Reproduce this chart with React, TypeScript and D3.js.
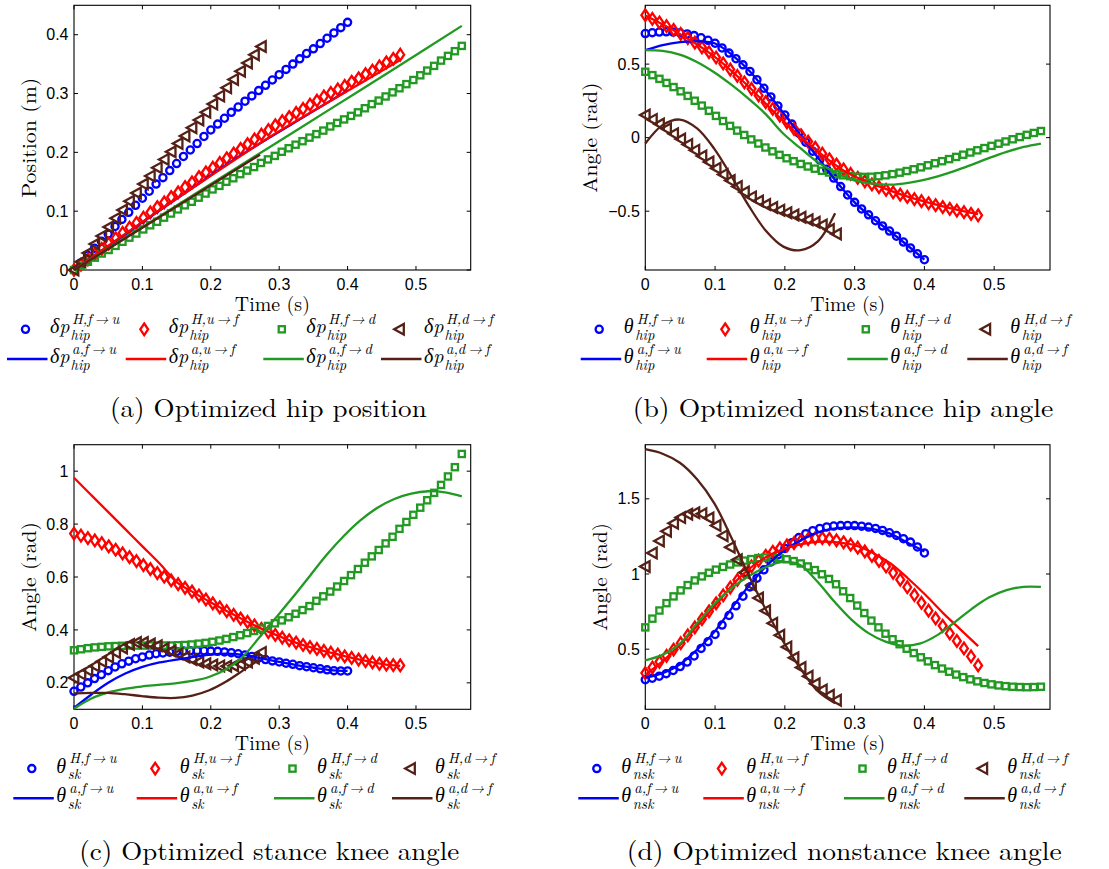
import React from "react";
import * as d3 from "d3";

// ---------- shared categories ----------
const timeTicks = [0, 0.1, 0.2, 0.3, 0.4, 0.5];
const transitions = ["f\u2192u", "u\u2192f", "f\u2192d", "d\u2192f"];
const gaitColors = ["#0000ff", "#ff0000", "#229922", "#552015"];
const markerEndTimes = [0.4, 0.477, 0.567, 0.274];
const lineEndTimes = [0.4, 0.477, 0.567, 0.272];

// ---------- (a) hip position ----------
const hipPosMarkFU = [0.000,0.012,0.025,0.037,0.049,0.061,0.074,0.086,0.098,0.110,
  0.122,0.134,0.146,0.157,0.169,0.181,0.193,0.204,0.215,0.227,
  0.238,0.248,0.258,0.268,0.277,0.287,0.296,0.305,0.314,0.323,
  0.332,0.341,0.350,0.359,0.368,0.376,0.385,0.394,0.403,0.412,0.421];
const hipPosMarkUF = [0,0.009,0.018,0.027,0.036,0.045,0.054,0.063,0.072,0.080,
  0.089,0.098,0.107,0.115,0.124,0.132,0.141,0.149,0.158,0.166,
  0.174,0.182,0.190,0.198,0.206,0.214,0.222,0.230,0.238,0.246,
  0.253,0.260,0.267,0.274,0.281,0.288,0.295,0.301,0.307,0.313,
  0.320,0.326,0.333,0.339,0.346,0.353,0.359,0.366];
const hipPosMarkFD = [0,0.007,0.014,0.021,0.028,0.034,0.041,0.048,0.055,0.062,
  0.069,0.076,0.082,0.089,0.096,0.103,0.110,0.116,0.123,0.130,
  0.137,0.143,0.150,0.156,0.163,0.169,0.175,0.182,0.188,0.194,
  0.201,0.207,0.213,0.219,0.225,0.231,0.237,0.244,0.250,0.256,
  0.262,0.268,0.275,0.282,0.288,0.295,0.302,0.309,0.316,0.323,
  0.331,0.339,0.347,0.356,0.364,0.372,0.381];
const hipPosMarkDF = [0,0.014,0.029,0.044,0.058,0.073,0.088,0.102,0.117,0.131,
  0.146,0.160,0.174,0.188,0.201,0.215,0.228,0.242,0.255,0.268,
  0.282,0.296,0.310,0.324,0.338,0.352,0.366,0.380];
const hipPosLineFU = [0,0.065,0.129,0.192,0.249,0.305];
const hipPosLineUF = [0,0.078,0.153,0.226,0.292,0.357];
const hipPosLineFD = [0,0.069,0.138,0.207,0.276,0.345,0.415];
const hipPosLineDF = [0,0.049,0.098,0.147,0.196];

// ---------- (b) nonstance hip angle ----------
const hipAngMarkFU = [0.708,0.714,0.718,0.720,0.718,0.713,0.705,0.694,0.679,0.662,
  0.642,0.610,0.575,0.537,0.495,0.450,0.394,0.336,0.277,0.216,
  0.154,0.092,0.030,-0.031,-0.092,-0.152,-0.215,-0.275,-0.333,-0.390,
  -0.440,-0.485,-0.525,-0.565,-0.600,-0.635,-0.670,-0.710,-0.750,-0.790,-0.830];
const hipAngMarkUF = [0.833,0.808,0.783,0.758,0.733,0.706,0.677,0.646,0.614,0.581,
  0.545,0.505,0.463,0.420,0.376,0.332,0.287,0.241,0.195,0.149,
  0.104,0.060,0.016,-0.027,-0.069,-0.109,-0.147,-0.183,-0.216,-0.246,
  -0.273,-0.297,-0.318,-0.337,-0.355,-0.372,-0.388,-0.403,-0.418,-0.432,
  -0.446,-0.459,-0.472,-0.484,-0.496,-0.507,-0.518,-0.528];
const hipAngMarkFD = [0.448,0.425,0.400,0.372,0.344,0.315,0.284,0.251,0.218,0.183,
  0.148,0.113,0.080,0.048,0.018,-0.012,-0.040,-0.067,-0.093,-0.117,
  -0.140,-0.160,-0.179,-0.196,-0.211,-0.225,-0.237,-0.248,-0.256,-0.262,
  -0.266,-0.267,-0.266,-0.262,-0.256,-0.248,-0.238,-0.227,-0.215,-0.202,
  -0.188,-0.174,-0.160,-0.146,-0.131,-0.116,-0.101,-0.086,-0.071,-0.056,
  -0.041,-0.026,-0.011,0.004,0.019,0.032,0.045];
const hipAngMarkDF = [0.154,0.124,0.092,0.060,0.026,-0.010,-0.047,-0.085,-0.125,-0.166,
  -0.208,-0.250,-0.292,-0.333,-0.370,-0.403,-0.431,-0.455,-0.475,-0.493,
  -0.510,-0.526,-0.542,-0.558,-0.575,-0.594,-0.625,-0.655];
const hipAngLineFU = [0.595,0.630,0.650,0.655,0.640,0.560,0.450,0.305,0.155,0.000,
  -0.152,-0.305,-0.440,-0.545,-0.635,-0.730,-0.830];
const hipAngLineUF = [0.830,0.710,0.565,0.370,0.145,-0.060,-0.230,-0.330,-0.410,-0.470,-0.520];
const hipAngLineFD = [0.595,0.590,0.565,0.515,0.445,0.360,0.265,0.160,0.030,-0.070,
  -0.165,-0.235,-0.285,-0.310,-0.320,-0.312,-0.292,-0.263,-0.226,-0.183,
  -0.138,-0.097,-0.063,-0.040];
const hipAngLineDF = [-0.040,0.085,0.123,0.063,-0.076,-0.264,-0.464,-0.635,-0.741,-0.765,-0.705,-0.514];

// ---------- (c) stance knee angle ----------
const skMarkFU = [0.168,0.184,0.200,0.216,0.231,0.246,0.260,0.272,0.282,0.291,
  0.298,0.305,0.310,0.313,0.316,0.318,0.320,0.321,0.321,0.321,
  0.320,0.319,0.317,0.314,0.310,0.305,0.300,0.294,0.288,0.283,
  0.279,0.274,0.270,0.265,0.261,0.257,0.253,0.249,0.246,0.245,0.245];
const skMarkUF = [0.764,0.756,0.747,0.738,0.728,0.716,0.703,0.689,0.675,0.660,
  0.645,0.630,0.615,0.601,0.587,0.573,0.559,0.545,0.530,0.515,
  0.500,0.485,0.471,0.457,0.443,0.430,0.417,0.404,0.392,0.381,
  0.371,0.361,0.352,0.343,0.335,0.328,0.321,0.314,0.307,0.300,
  0.294,0.288,0.282,0.277,0.272,0.269,0.267,0.266];
const skMarkFD = [0.323,0.327,0.331,0.334,0.336,0.338,0.339,0.340,0.341,0.341,
  0.341,0.341,0.341,0.341,0.341,0.342,0.343,0.345,0.348,0.351,
  0.355,0.360,0.366,0.373,0.380,0.388,0.396,0.405,0.415,0.425,
  0.436,0.448,0.461,0.475,0.490,0.510,0.527,0.545,0.564,0.585,
  0.607,0.630,0.654,0.678,0.702,0.727,0.752,0.782,0.808,0.835,
  0.862,0.890,0.918,0.948,0.980,1.015,1.065];
const skMarkDF = [0.219,0.233,0.248,0.264,0.281,0.298,0.315,0.332,0.345,0.352,
  0.352,0.347,0.340,0.330,0.320,0.309,0.298,0.288,0.279,0.272,
  0.267,0.264,0.263,0.265,0.270,0.279,0.293,0.315];
const skLineFU = [0.105,0.155,0.200,0.235,0.260,0.277,0.288,0.298,0.307,0.310,
  0.305,0.292,0.279,0.267,0.257,0.248,0.245];
const skLineUF = [0.975,0.910,0.845,0.780,0.715,0.650,0.580,0.540,0.503,0.468,
  0.434,0.402,0.375,0.350,0.330,0.313,0.297,0.283,0.271,0.264];
const skLineFD = [0.102,0.140,0.163,0.177,0.186,0.192,0.198,0.207,0.222,0.250,
  0.298,0.372,0.448,0.525,0.605,0.685,0.755,0.815,0.862,0.895,
  0.915,0.924,0.920,0.905];
const skLineDF = [0.160,0.162,0.162,0.157,0.150,0.144,0.143,0.152,0.172,0.205,0.247,0.290];

// ---------- (d) nonstance knee angle ----------
const nskMarkFU = [0.297,0.307,0.320,0.337,0.358,0.384,0.414,0.455,0.505,0.550,
  0.598,0.660,0.724,0.788,0.852,0.914,0.972,1.028,1.080,1.127,
  1.170,1.208,1.242,1.268,1.288,1.303,1.313,1.319,1.322,1.323,
  1.322,1.318,1.312,1.303,1.290,1.274,1.256,1.235,1.212,1.180,1.140];
const nskMarkUF = [0.341,0.378,0.416,0.456,0.497,0.540,0.592,0.645,0.699,0.752,
  0.805,0.858,0.910,0.960,1.008,1.051,1.089,1.121,1.148,1.171,
  1.190,1.206,1.222,1.232,1.238,1.239,1.234,1.224,1.211,1.195,
  1.175,1.150,1.120,1.087,1.050,1.008,0.962,0.912,0.860,0.808,
  0.756,0.705,0.655,0.605,0.555,0.505,0.452,0.392];
const nskMarkFD = [0.645,0.703,0.757,0.806,0.851,0.891,0.926,0.957,0.984,1.008,
  1.029,1.047,1.063,1.077,1.089,1.099,1.106,1.110,1.110,1.106,
  1.098,1.086,1.070,1.050,1.026,0.998,0.967,0.932,0.885,0.840,
  0.790,0.740,0.690,0.645,0.603,0.566,0.533,0.503,0.474,0.446,
  0.419,0.394,0.371,0.350,0.331,0.314,0.299,0.286,0.275,0.266,
  0.259,0.254,0.250,0.248,0.247,0.248,0.250];
const nskMarkDF = [1.050,1.140,1.220,1.285,1.338,1.375,1.398,1.407,1.400,1.372,
  1.322,1.255,1.178,1.095,1.010,0.925,0.840,0.755,0.672,0.592,
  0.515,0.443,0.378,0.320,0.270,0.228,0.193,0.160];
const nskLineFU = [0.310,0.340,0.400,0.500,0.620,0.780,0.930,1.060,1.160,1.230,
  1.280,1.305,1.310,1.300,1.270,1.210,1.150];
const nskLineUF = [0.330,0.420,0.530,0.660,0.790,0.930,1.040,1.120,1.170,1.200,
  1.215,1.210,1.190,1.140,1.070,0.970,0.860,0.740,0.630,0.520];
const nskLineFD = [0.426,0.462,0.535,0.670,0.800,0.905,0.985,1.045,1.080,1.060,
  0.950,0.815,0.695,0.605,0.548,0.522,0.538,0.595,0.680,0.770,
  0.845,0.893,0.915,0.914];
const nskLineDF = [1.830,1.800,1.740,1.630,1.470,1.240,0.990,0.760,0.550,0.370,0.220,0.140];

// ---------- panel configuration ----------
type PanelCfg = {
  left: number; right: number; top: number; bottom: number;
  yDomain: [number, number]; yTicks: number[];
  yLabel: string; yLabelX: number; yLabelLen: number;
  marks: number[][]; lines: number[][];
  base: string; baseW: number; sub: string;
  legendX: number[];
  caption: string; captionX: number; captionW: number; captionY: number;
};

const panels: PanelCfg[] = [
  {
    left: 74, right: 470.7, top: 5.3, bottom: 270,
    yDomain: [0, 0.45], yTicks: [0, 0.1, 0.2, 0.3, 0.4],
    yLabel: "Position (m)", yLabelX: 35.7, yLabelLen: 120,
    marks: [hipPosMarkFU, hipPosMarkUF, hipPosMarkFD, hipPosMarkDF],
    lines: [hipPosLineFU, hipPosLineUF, hipPosLineFD, hipPosLineDF],
    base: "\u03B4p", baseW: 21, sub: "hip",
    legendX: [7, 125.7, 263.3, 381],
    caption: "(a) Optimized hip position", captionX: 110, captionW: 316.7, captionY: 417,
  },
  {
    left: 645.3, right: 1050, top: 5.3, bottom: 270,
    yDomain: [-0.9, 0.9], yTicks: [-0.5, 0, 0.5],
    yLabel: "Angle (rad)", yLabelX: 596.7, yLabelLen: 110,
    marks: [hipAngMarkFU, hipAngMarkUF, hipAngMarkFD, hipAngMarkDF],
    lines: [hipAngLineFU, hipAngLineUF, hipAngLineFD, hipAngLineDF],
    base: "\u03B8", baseW: 12, sub: "hip",
    legendX: [580.7, 706.7, 847.3, 967.3],
    caption: "(b) Optimized nonstance hip angle", captionX: 632.7, captionW: 420.6, captionY: 417,
  },
  {
    left: 74, right: 470.7, top: 444.7, bottom: 709.3,
    yDomain: [0.1, 1.1], yTicks: [0.2, 0.4, 0.6, 0.8, 1],
    yLabel: "Angle (rad)", yLabelX: 35.7, yLabelLen: 110,
    marks: [skMarkFU, skMarkUF, skMarkFD, skMarkDF],
    lines: [skLineFU, skLineUF, skLineFD, skLineDF],
    base: "\u03B8", baseW: 12, sub: "sk",
    legendX: [13.3, 136.7, 274, 392],
    caption: "(c) Optimized stance knee angle", captionX: 79.3, captionW: 380, captionY: 860,
  },
  {
    left: 645.3, right: 1050, top: 444.7, bottom: 709.3,
    yDomain: [0.1, 1.86], yTicks: [0.5, 1, 1.5],
    yLabel: "Angle (rad)", yLabelX: 606.7, yLabelLen: 108,
    marks: [nskMarkFU, nskMarkUF, nskMarkFD, nskMarkDF],
    lines: [nskLineFU, nskLineUF, nskLineFD, nskLineDF],
    base: "\u03B8", baseW: 12, sub: "nsk",
    legendX: [578.3, 703.3, 844, 964.3],
    caption: "(d) Optimized nonstance knee angle", captionX: 626.7, captionW: 435, captionY: 860,
  },
];

const SANS = "'Liberation Sans', Arial, Helvetica, sans-serif";
const SERIF = "'Latin Modern Roman', 'CMU Serif', 'Liberation Serif', 'Times New Roman', serif";

function toPoints(values: number[], T: number): [number, number][] {
  const n = values.length;
  return values.map((v, i) => [(i * T) / (n - 1), v] as [number, number]);
}

function fmt(v: number): string {
  return String(v).replace("-", "\u2212");
}

function Marker({ kind, x, y, color }: { kind: number; x: number; y: number; color: string }) {
  const sw = 2.3;
  if (kind === 0) return <circle cx={x} cy={y} r={3.6} fill="none" stroke={color} strokeWidth={sw} />;
  if (kind === 1)
    return <path d={`M${x},${y - 5.8}L${x + 3.9},${y}L${x},${y + 5.8}L${x - 3.9},${y}Z`} fill="none" stroke={color} strokeWidth={sw} />;
  if (kind === 2)
    return <rect x={x - 3.1} y={y - 3.1} width={6.2} height={6.2} fill="none" stroke={color} strokeWidth={sw} />;
  return <path d={`M${x - 5.3},${y}L${x + 4.3},${y - 5.3}L${x + 4.3},${y + 5.3}Z`} fill="none" stroke={color} strokeWidth={sw} />;
}

function MathLabel({ x, y, base, baseW, sup, sub }: { x: number; y: number; base: string; baseW: number; sup: string; sub: string }) {
  return (
    <g fontFamily={SERIF} fontStyle="italic" fill="#000">
      <text x={x} y={y} fontSize={20}>{base}</text>
      <text x={x + baseW + 1} y={y - 9.5} fontSize={14.5}>{sup}</text>
      <text x={x + baseW - 0.5} y={y + 6.5} fontSize={14.5}>{sub}</text>
    </g>
  );
}

function Panel({ p }: { p: PanelCfg }) {
  const x = d3.scaleLinear().domain([0, 0.58]).range([p.left, p.right]);
  const y = d3.scaleLinear().domain(p.yDomain).range([p.bottom, p.top]);
  const lineGen = d3
    .line<[number, number]>()
    .x((d) => x(d[0]))
    .y((d) => y(d[1]))
    .curve(d3.curveCatmullRom.alpha(0.5));
  const TL = 4;
  const midX = (p.left + p.right) / 2;
  const midY = (p.top + p.bottom) / 2;
  const row1 = p.bottom + 59.3;
  const row2 = p.bottom + 89;
  const arrowSup = (pre: string, i: number) => `${pre},${transitions[i].replace("\u2192", "\u2009\u2192\u2009")}`;

  return (
    <g>
      <rect x={p.left} y={p.top} width={p.right - p.left} height={p.bottom - p.top} fill="#fff" stroke="#000" strokeWidth={1.1} />
      {timeTicks.map((t) => (
        <g key={"xt" + t}>
          <line x1={x(t)} x2={x(t)} y1={p.bottom} y2={p.bottom - TL} stroke="#000" strokeWidth={1} />
          <line x1={x(t)} x2={x(t)} y1={p.top} y2={p.top + TL} stroke="#000" strokeWidth={1} />
          <text x={x(t)} y={p.bottom + 20} textAnchor="middle" fontFamily={SANS} fontSize={16}>
            {fmt(t)}
          </text>
        </g>
      ))}
      {p.yTicks.map((v) => (
        <g key={"yt" + v}>
          <line x1={p.left} x2={p.left + TL} y1={y(v)} y2={y(v)} stroke="#000" strokeWidth={1} />
          <line x1={p.right} x2={p.right - TL} y1={y(v)} y2={y(v)} stroke="#000" strokeWidth={1} />
          <text x={p.left - 5.5} y={y(v) + 5.6} textAnchor="end" fontFamily={SANS} fontSize={16}>
            {fmt(v)}
          </text>
        </g>
      ))}
      {/* measured (human) trajectories: markers */}
      {p.marks.map((vals, gi) => (
        <g key={"m" + gi}>
          {toPoints(vals, markerEndTimes[gi]).map((d, k) => (
            <Marker key={k} kind={gi} x={x(d[0])} y={y(d[1])} color={gaitColors[gi]} />
          ))}
        </g>
      ))}
      {/* analytic trajectories: lines */}
      {p.lines.map((vals, gi) => (
        <path key={"l" + gi} d={lineGen(toPoints(vals, lineEndTimes[gi])) || ""} fill="none" stroke={gaitColors[gi]} strokeWidth={2.3} />
      ))}
      {/* axis labels */}
      <text x={midX} y={p.bottom + 41} textAnchor="middle" fontFamily={SERIF} fontSize={20} textLength={75} lengthAdjust="spacingAndGlyphs">
        Time (s)
      </text>
      <text
        transform={`translate(${p.yLabelX},${midY}) rotate(-90)`}
        textAnchor="middle"
        fontFamily={SERIF}
        fontSize={20}
        textLength={p.yLabelLen}
        lengthAdjust="spacingAndGlyphs"
      >
        {p.yLabel}
      </text>
      {/* legend */}
      {transitions.map((_, gi) => {
        const lx = p.legendX[gi];
        return (
          <g key={"lg" + gi}>
            <Marker kind={gi} x={lx + 18.5} y={row1} color={gaitColors[gi]} />
            <MathLabel x={lx + 43} y={row1 + 4} base={p.base} baseW={p.baseW} sup={arrowSup("H", gi)} sub={p.sub} />
            <line x1={lx} x2={lx + 40.5} y1={row2} y2={row2} stroke={gaitColors[gi]} strokeWidth={2.5} />
            <MathLabel x={lx + 43} y={row2 + 4} base={p.base} baseW={p.baseW} sup={arrowSup("a", gi)} sub={p.sub} />
          </g>
        );
      })}
      {/* caption */}
      <text x={p.captionX} y={p.captionY} fontFamily={SERIF} fontSize={26} textLength={p.captionW} lengthAdjust="spacingAndGlyphs">
        {p.caption}
      </text>
    </g>
  );
}

export default function App() {
  return (
    <svg
      width={1109}
      height={869}
      viewBox="0 0 1109 869"
      style={{ position: "absolute", left: 0, top: 0, background: "#fff" }}
    >
      <rect x={0} y={0} width={1109} height={869} fill="#fff" />
      {panels.map((p, i) => (
        <Panel key={i} p={p} />
      ))}
    </svg>
  );
}
